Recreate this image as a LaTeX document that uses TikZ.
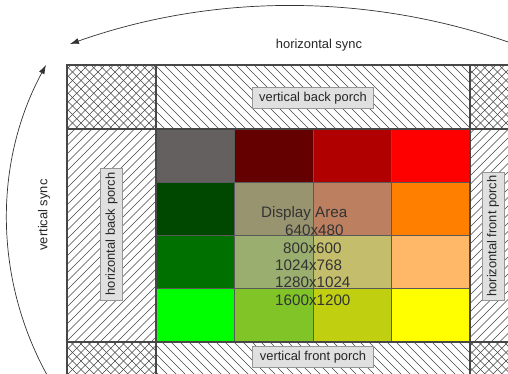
\documentclass[tikz,border=0pt]{standalone}
\usepackage{fontspec}
\setmainfont{Liberation Sans}
\usetikzlibrary{arrows.meta}
\definecolor{c11}{RGB}{100,96,96}
\definecolor{c12}{RGB}{100,0,0}
\definecolor{c13}{RGB}{176,0,0}
\definecolor{c14}{RGB}{255,0,0}
\definecolor{c21}{RGB}{0,72,0}
\definecolor{c22}{RGB}{152,148,112}
\definecolor{c23}{RGB}{188,128,96}
\definecolor{c24}{RGB}{255,128,0}
\definecolor{c31}{RGB}{0,112,0}
\definecolor{c32}{RGB}{154,174,112}
\definecolor{c33}{RGB}{196,190,108}
\definecolor{c34}{RGB}{255,184,104}
\definecolor{c41}{RGB}{0,255,0}
\definecolor{c42}{RGB}{128,196,40}
\definecolor{c43}{RGB}{192,208,16}
\definecolor{c44}{RGB}{255,255,0}
\definecolor{lblfill}{RGB}{224,224,224}
\definecolor{lbldraw}{RGB}{150,150,150}
\definecolor{hatchcol}{RGB}{70,70,70}
\begin{document}
\begin{tikzpicture}[x=1pt,y=-1pt,
  lbl/.style={draw=lbldraw,fill=lblfill,line width=0.9pt,inner sep=0pt,
    font=\fontsize{12.9}{15}\selectfont,text=black!85},
  plain/.style={inner sep=0pt,font=\fontsize{12.9}{15}\selectfont,text=black!85},
  disp/.style={inner sep=0pt,anchor=base west,font=\fontsize{15.2}{18}\selectfont,text=black!80},
  hatchline/.style={draw=hatchcol,line width=0.6pt},
  frameline/.style={draw=black!72,line width=1.1pt},
  cellline/.style={draw=black!65,line width=0.8pt},
  syncarc/.style={draw=black!80,line width=0.7pt,-{Latex[length=9pt,width=6pt]}}]
\useasboundingbox (0,0) rectangle (508,373);
\clip (0,0) rectangle (508,373);
\fill[white] (0,0) rectangle (508,373);
% hatched frame: cross-hatched corners
\foreach \x/\y/\xx/\yy in {67/65/156/129, 470/65/560/129, 67/342/156/407, 470/342/560/407}{
  \begin{scope}
    \clip (\x,\y) rectangle (\xx,\yy);
    \foreach \c in {-450,-441.5,...,600} \draw[hatchline] (\c,0) -- ++(450,450);
    \foreach \c in {0,8.5,...,1050} \draw[hatchline] (\c,0) -- ++(-450,450);
  \end{scope}}
% top and bottom bands: back-slash lines
\foreach \x/\y/\xx/\yy in {156/65/470/129, 156/342/470/407}{
  \begin{scope}
    \clip (\x,\y) rectangle (\xx,\yy);
    \foreach \c in {-450,-441,...,600} \draw[hatchline] (\c,0) -- ++(450,450);
  \end{scope}}
% left and right bands: slash lines
\foreach \x/\y/\xx/\yy in {67/129/156/342, 470/129/560/342}{
  \begin{scope}
    \clip (\x,\y) rectangle (\xx,\yy);
    \foreach \c in {0,8.5,...,1050} \draw[hatchline] (\c,0) -- ++(-450,450);
  \end{scope}}
\draw[frameline] (67,65) rectangle (560,407);
\draw[frameline] (67,129) -- (560,129) (67,342) -- (560,342)
  (156,65) -- (156,407) (470,65) -- (470,407);
% colour grid
\fill[c11] (156,129) rectangle (234.5,182.25);
\fill[c12] (234.5,129) rectangle (313,182.25);
\fill[c13] (313,129) rectangle (391.5,182.25);
\fill[c14] (391.5,129) rectangle (470,182.25);
\fill[c21] (156,182.25) rectangle (234.5,235.5);
\fill[c22] (234.5,182.25) rectangle (313,235.5);
\fill[c23] (313,182.25) rectangle (391.5,235.5);
\fill[c24] (391.5,182.25) rectangle (470,235.5);
\fill[c31] (156,235.5) rectangle (234.5,288.75);
\fill[c32] (234.5,235.5) rectangle (313,288.75);
\fill[c33] (313,235.5) rectangle (391.5,288.75);
\fill[c34] (391.5,235.5) rectangle (470,288.75);
\fill[c41] (156,288.75) rectangle (234.5,342);
\fill[c42] (234.5,288.75) rectangle (313,342);
\fill[c43] (313,288.75) rectangle (391.5,342);
\fill[c44] (391.5,288.75) rectangle (470,342);
\draw[cellline] (234.5,129) -- (234.5,342) (313,129) -- (313,342) (391.5,129) -- (391.5,342)
  (156,182.25) -- (470,182.25) (156,235.5) -- (470,235.5) (156,288.75) -- (470,288.75);
\draw[frameline] (156,129) rectangle (470,342);
% labels
\node[lbl,minimum width=121pt,minimum height=21pt] (vbp) at (313,98) {vertical back porch};
\node[lbl,minimum width=121pt,minimum height=21pt] (vfp) at (313,357) {vertical front porch};
\node[lbl,rotate=90,minimum width=132pt,minimum height=22pt] (hbp) at (111.5,234) {horizontal back porch};
\node[lbl,rotate=90,minimum width=128pt,minimum height=22pt] (hfp) at (493,236) {horizontal front porch};
\node[plain] (hs) at (319,45) {horizontal sync};
\node[plain,rotate=90] (vs) at (44,215) {vertical sync};
% display area text
\node[disp] (da) at (261,217) {Display Area};
\node[disp] (r1) at (285,235) {640x480};
\node[disp] (r2) at (283,253) {800x600};
\node[disp] (r3) at (275,270.5) {1024x768};
\node[disp] (r4) at (275,287) {1280x1024};
\node[disp] (r5) at (275,305) {1600x1200};
% sync arcs
\coordinate (hc) at (291.9,671.5);
\coordinate (vc) at (330.6,219);
\draw[syncarc] ([shift={(-66:665.6)}]hc) arc[start angle=-66,end angle=-109.48,radius=665.6];
\draw[syncarc] ([shift={(146:323.6)}]vc) arc[start angle=146,end angle=208.42,radius=323.6];
\end{tikzpicture}
\end{document}
